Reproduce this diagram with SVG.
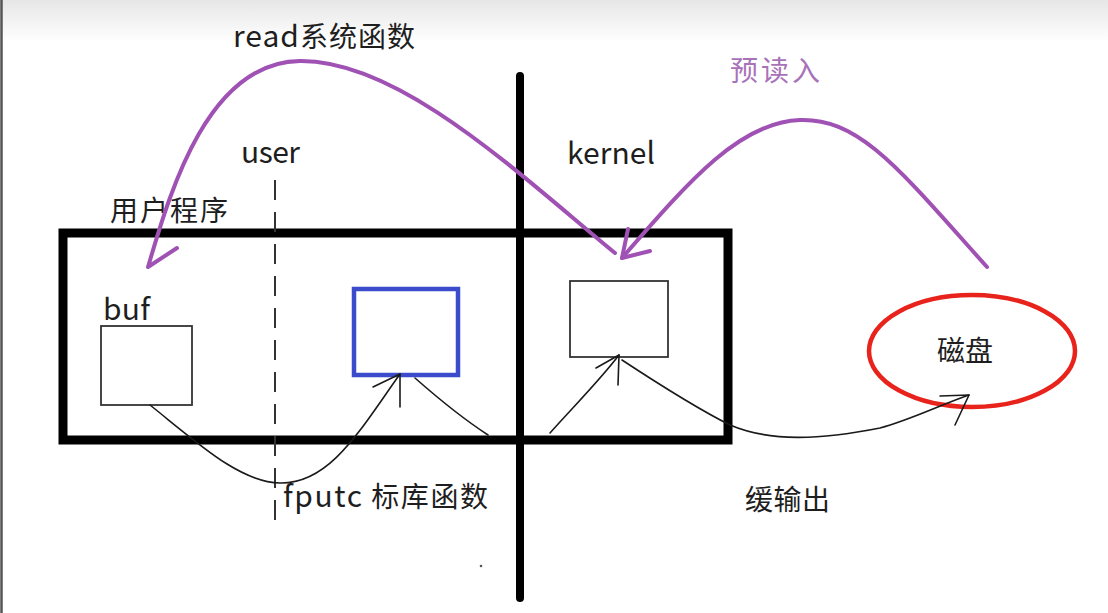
<svg xmlns="http://www.w3.org/2000/svg" width="1108" height="613" viewBox="0 0 1108 613">
<defs>
<linearGradient id="topband" x1="0" y1="0" x2="0" y2="1">
<stop offset="0" stop-color="#e6e6e6"/>
<stop offset="1" stop-color="#ffffff"/>
</linearGradient>
</defs>
<style>
.t{font-family:"Noto Sans CJK SC","Noto Sans",sans-serif;font-size:28px;fill:#1e1e1e}
.l{font-size:30px}
.p{fill:none;stroke:#a052b4;stroke-width:4;stroke-linecap:round;stroke-linejoin:round}
.k{fill:none;stroke:#1a1a1a;stroke-width:1.6;stroke-linecap:round;stroke-linejoin:round}
.box{fill:#fff;stroke:#333;stroke-width:1.8}
</style>
<rect x="0" y="0" width="1108" height="613" fill="#fff"/>
<rect x="0" y="0" width="1108" height="42" fill="url(#topband)"/>
<line x1="1.5" y1="0" x2="1.5" y2="613" stroke="#555" stroke-width="2.5"/>

<g id="frame">
<rect x="63" y="233" width="665" height="207" fill="none" stroke="#000" stroke-width="9"/>
<line x1="520" y1="76" x2="520" y2="598" stroke="#000" stroke-width="8" stroke-linecap="round"/>
<line x1="275" y1="180" x2="275" y2="522" stroke="#333" stroke-width="2" stroke-dasharray="20 12"/>
</g>

<g id="buf">
<rect class="box" x="101" y="326" width="91" height="79"/>
<text class="t l" x="103" y="320" textLength="47">buf</text>
</g>
<g id="stdio-buffer">
<rect x="354" y="289" width="104" height="86" fill="#fff" stroke="#3a4bcc" stroke-width="4.5"/>
</g>
<g id="kernel-buffer">
<rect class="box" x="570" y="281" width="98" height="76"/>
</g>
<g id="disk">
<ellipse cx="972" cy="351" rx="103" ry="56" fill="none" stroke="#e8231c" stroke-width="4.5"/>
<text class="t" x="937" y="361">磁盘</text>
</g>

<g id="labels">
<text class="t" x="233" y="47" textLength="182"><tspan class="l">read</tspan>系统函数</text>
<text class="t l" x="241" y="163" textLength="59">user</text>
<text class="t l" x="567" y="164" textLength="88">kernel</text>
<text class="t" x="110" y="221" textLength="118">用户程序</text>
<text class="t" x="283" y="507" textLength="205"><tspan class="l">fputc</tspan> 标库函数</text>
<text class="t" x="745" y="510" textLength="85">缓输出</text>
<text class="t" x="730" y="81" textLength="90" style="fill:#a872b8">预读入</text>
</g>

<g id="connectors">
<path class="p" d="M615,253 C520,175 400,60 300,61 C205,62 168,200 148,267 L177,248"/>
<path class="p" d="M987,267 C900,170 860,118 800,120 C740,122 690,180 622,258"/>
<path class="p" d="M628,229 L622,258 L650,251"/>
<path class="k" d="M150,405 C200,445 240,482 280,483 C330,484 360,430 400,374"/>
<path class="k" d="M373,387 L400,374 L400,407"/>
<path class="k" d="M415,378 C440,400 465,420 488,435"/>
<path class="k" d="M550,433 C575,405 600,380 619,355"/>
<path class="k" d="M596,368 L619,355 L618,385"/>
<path class="k" d="M622,360 C660,385 700,410 730,425 C770,442 820,440 880,428 C910,420 940,405 969,395"/>
<path class="k" d="M940,396 L969,395 L955,425"/>
</g>
<circle cx="481" cy="566" r="1.3" fill="#555"/>
</svg>
